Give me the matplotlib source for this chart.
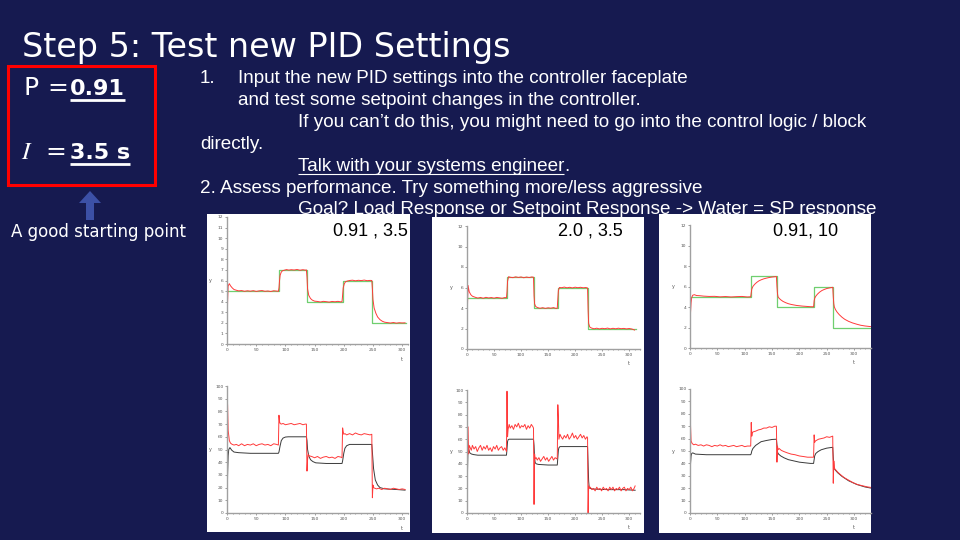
import matplotlib
matplotlib.use("Agg")
import matplotlib.pyplot as plt
from matplotlib.ticker import MultipleLocator
from matplotlib.patches import Rectangle, Polygon

# ---------------- data ----------------
# panel A : P = 0.91, I = 3.5
a_label = "0.91 , 3.5"
a_sp_t = [0, 89, 137, 198, 249, 307]
a_sp_y = [5, 7, 4, 6, 2, 2]
a_pv_t = [0, 1, 2, 4, 6, 9, 12, 16, 20, 25, 30, 35, 40, 45, 50, 55, 60, 65, 70, 75, 80, 85, 88,
          89, 90, 91, 93, 95, 98, 102, 106, 110, 115, 120, 125, 130, 134, 136,
          137, 138, 140, 143, 146, 150, 155, 160, 165, 170, 175, 180, 185, 190, 195, 197,
          198, 199, 201, 203, 206, 210, 215, 220, 225, 230, 235, 240, 245, 248,
          249, 250, 252, 255, 258, 262, 266, 270, 275, 280, 285, 290, 295, 300, 305]
a_pv_y = [0.8, 4.0, 5.5, 5.7, 5.5, 5.3, 5.15, 5.08, 5.02, 5.05, 4.98, 5.03, 4.99, 5.04, 4.97, 5.02, 5.05, 4.98, 5.01, 4.96, 5.03, 5.0, 4.98,
          5.3, 6.0, 6.5, 6.8, 6.92, 6.97, 7.03, 6.98, 7.02, 6.99, 7.04, 6.97, 7.02, 6.98, 7.0,
          6.3, 5.2, 4.6, 4.3, 4.15, 4.05, 4.02, 3.97, 4.03, 4.0, 3.96, 4.02, 3.99, 4.03, 3.98, 4.0,
          4.6, 5.3, 5.7, 5.88, 5.95, 6.0, 6.03, 5.97, 6.02, 5.99, 6.04, 5.98, 6.01, 6.0,
          5.2, 4.2, 3.4, 2.9, 2.55, 2.3, 2.15, 2.06, 2.02, 1.98, 2.03, 1.97, 2.01, 1.99, 2.0]
a_co_t = [0, 1, 2, 4, 6, 9, 12, 16, 20, 25, 30, 35, 40, 45, 50, 55, 60, 65, 70, 75, 80, 85, 88,
          89, 90, 91, 93, 96, 100, 105, 110, 115, 120, 125, 130, 134, 136,
          137, 138, 139, 141, 145, 150, 155, 160, 165, 170, 175, 180, 185, 190, 195, 197,
          198, 199, 200, 202, 205, 210, 215, 220, 225, 230, 235, 240, 245, 248,
          249, 250, 251, 253, 256, 260, 265, 270, 275, 280, 285, 290, 295, 300, 305]
a_co_y = [93, 85, 65, 57, 55, 54, 53.5, 54, 53, 54.5, 53, 54, 53.5, 54.5, 53, 54, 54.5, 53.5, 54, 53, 54.5, 54, 53.5,
          77, 72, 70.5, 70, 70.5, 69.5, 70, 70.5, 69.5, 70, 70.5, 69.5, 70, 70,
          33, 42, 46, 45, 44.5, 43.5, 44.5, 43, 44, 44.5, 43.5, 44, 43, 44.5, 44, 43.5,
          67, 64, 62, 62.5, 61.5, 62.5, 61.5, 63, 62, 61.5, 62.5, 62, 61.5, 62,
          12, 22, 20, 19.5, 19, 19.5, 18.5, 19.5, 19, 18.5, 19.5, 19, 18.5, 19, 18.5]
a_bk_t = [0, 1, 2, 3, 5, 8, 12, 20, 40, 60, 80, 88,
          89, 91, 93, 96, 100, 105, 120, 136,
          137, 138, 140, 143, 147, 152, 170, 197,
          198, 200, 202, 205, 210, 220, 248,
          249, 251, 254, 258, 262, 270, 290, 305]
a_bk_y = [0, 30, 45, 50, 51.5, 49.5, 48, 47.5, 47, 47, 47, 47,
          48, 53, 57, 59, 59.8, 60, 60, 60,
          57, 50, 45, 42, 40.5, 39.5, 39, 39,
          41, 47, 51, 53, 54, 54, 54,
          48, 35, 26, 22, 20, 19, 18.5, 18]

# panel B : P = 2.0, I = 3.5
b_label = "2.0 , 3.5"
b_sp_t = [0, 74, 124, 168, 224, 312]
b_sp_y = [5, 7, 4, 6, 2, 2]
b_pv_t = [0, 1, 2, 4, 7, 10, 15, 20, 25, 30, 35, 40, 45, 50, 55, 60, 65, 70, 73,
          74, 75, 77, 80, 85, 90, 95, 100, 105, 110, 115, 120, 123,
          124, 125, 127, 130, 135, 140, 145, 150, 155, 160, 165, 167,
          168, 169, 171, 175, 180, 185, 190, 195, 200, 205, 210, 215, 220, 223,
          224, 225, 227, 230, 235, 240, 245, 250, 255, 260, 265, 270, 275, 280, 285, 290, 295, 300, 305, 310]
b_pv_y = [1.0, 4.5, 6.2, 5.6, 5.3, 5.15, 5.05, 4.97, 5.03, 4.95, 5.04, 4.98, 5.02, 4.96, 5.03, 4.99, 4.95, 5.02, 5.0,
          5.6, 6.6, 7.05, 7.0, 6.96, 7.04, 6.98, 7.03, 6.95, 7.02, 6.97, 7.03, 7.0,
          5.2, 4.4, 4.15, 4.05, 3.97, 4.03, 3.96, 4.02, 3.98, 4.04, 3.95, 4.0,
          4.9, 5.7, 6.0, 5.98, 6.04, 5.97, 6.02, 5.96, 6.03, 5.98, 6.02, 5.97, 6.0, 5.95,
          3.8, 2.5, 2.15, 2.05, 1.97, 2.03, 1.96, 2.02, 1.98, 2.04, 1.96, 2.02, 1.97, 2.03, 1.98, 2.01, 1.96, 2.0, 1.95, 1.85]
b_co_t = [0, 1, 2, 3, 4, 6, 8, 10, 13, 16, 19, 22, 25, 28, 31, 34, 37, 40, 43, 46, 49, 52, 55, 58, 61, 64, 67, 70, 73,
          74, 75, 76, 78, 80, 83, 86, 89, 92, 95, 98, 101, 104, 107, 110, 113, 116, 119, 122, 123,
          124, 125, 126, 128, 130, 133, 136, 139, 142, 145, 148, 151, 154, 157, 160, 163, 166, 167,
          168, 169, 170, 172, 174, 177, 180, 183, 186, 189, 192, 195, 198, 201, 204, 207, 210, 213, 216, 219, 222, 223,
          224, 225, 226, 228, 231, 234, 237, 240, 243, 246, 249, 252, 255, 258, 261, 264, 267, 270, 273, 276,
          279, 282, 285, 288, 291, 294, 297, 300, 303, 306, 309, 311]
b_co_y = [100, 52, 70, 48, 55, 53, 51, 55, 52, 54, 50, 53, 55, 51, 54, 52, 55, 51, 53, 50, 54, 52, 55, 51, 53, 54, 51, 53, 50,
          99, 62, 68, 72, 69, 71, 68, 72, 70, 73, 69, 71, 70, 72, 68, 71, 69, 72, 70, 69,
          7, 48, 44, 45, 43, 45, 42, 44, 46, 43, 45, 42, 44, 46, 43, 45, 44, 45,
          88, 78, 60, 64, 62, 60, 63, 61, 64, 60, 62, 65, 61, 63, 60, 62, 64, 61, 63, 60, 62, 61,
          0, 22, 20, 21, 19, 20, 18, 21, 19, 20, 18, 21, 19, 20, 18, 21, 19, 21, 18, 20,
          19, 21, 18, 20, 21, 18, 20, 19, 21, 18, 20, 22]
b_bk_t = [0, 1, 2, 3, 5, 8, 12, 20, 40, 60,
          73, 74, 75, 76, 78, 82, 100, 123,
          124, 125, 126, 128, 132, 150, 167,
          168, 169, 170, 172, 176, 200, 223,
          224, 225, 226, 228, 232, 260, 290, 311]
b_bk_y = [0, 35, 55, 52, 49, 48, 47.5, 47, 47, 47,
          47, 52, 58, 59.5, 60, 60, 60, 60,
          55, 45, 41, 40, 39.5, 39, 39,
          45, 51, 53, 54, 54, 54, 54,
          40, 26, 21, 20, 19.5, 19, 19, 18.5]

# panel C : P = 0.91, I = 10
c_label = "0.91, 10"
c_sp_t = [0, 112, 159, 227, 262, 338]
c_sp_y = [5, 7, 4, 6, 2, 2]
c_pv_t = [0, 1, 2, 3, 5, 8, 12, 18, 25, 35, 45, 55, 65, 75, 85, 95, 105, 111,
          112, 113, 115, 118, 122, 126, 130, 135, 140, 145, 150, 155, 158,
          159, 160, 161, 163, 166, 170, 175, 180, 185, 190, 195, 200, 205, 210, 215, 220, 226,
          227, 228, 230, 233, 237, 241, 245, 250, 255, 261,
          262, 263, 264, 266, 269, 273, 278, 283, 290, 297, 305, 312, 320, 328, 335, 338]
c_pv_y = [1.2, 3.5, 4.4, 4.9, 5.15, 5.2, 5.12, 5.1, 5.06, 5.03, 5.04, 4.99, 5.02, 4.98, 5.01, 5.03, 4.98, 5.0,
          5.4, 5.75, 6.0, 6.2, 6.4, 6.55, 6.65, 6.75, 6.82, 6.88, 6.92, 6.95, 6.97,
          6.0, 5.3, 5.0, 4.85, 4.7, 4.55, 4.42, 4.32, 4.25, 4.2, 4.15, 4.12, 4.09, 4.07, 4.05, 4.03, 4.02,
          4.6, 4.85, 5.05, 5.25, 5.45, 5.6, 5.7, 5.8, 5.86, 5.92,
          5.0, 4.3, 4.0, 3.75, 3.5, 3.25, 3.0, 2.8, 2.6, 2.45, 2.32, 2.22, 2.15, 2.1, 2.06, 2.05]
c_co_t = [0, 1, 2, 4, 7, 10, 15, 20, 25, 30, 35, 40, 45, 50, 55, 60, 65, 70, 75, 80, 85, 90, 95, 100, 105, 111,
          112, 113, 114, 116, 120, 125, 130, 135, 140, 145, 150, 155, 158,
          159, 160, 161, 163, 167, 172, 178, 185, 192, 200, 208, 215, 222, 226,
          227, 228, 229, 231, 235, 240, 245, 250, 255, 261,
          262, 263, 264, 266, 270, 275, 282, 290, 298, 306, 315, 325, 333, 338]
c_co_y = [86, 70, 58, 56, 55, 55.5, 54.5, 55, 54, 55, 54.5, 53.5, 54.5, 54, 55, 54, 54.5, 53.5, 54, 54.5, 53.5, 54, 54.5, 53.5, 54, 54,
          73, 62, 65, 65.5, 66, 67, 67.5, 68.5, 68.5, 69.5, 69, 70, 70,
          41, 54, 51, 52, 50.5, 49.5, 48.5, 47.5, 47, 46, 45.5, 45, 45, 45,
          63, 57, 58, 58.5, 59.5, 60, 60.5, 61.5, 61, 62,
          24, 42, 36, 35, 33, 31, 28.5, 26.5, 24.5, 23, 22, 21, 20.5, 19.5]
c_bk_t = [0, 1, 2, 3, 5, 10, 30, 60, 90, 111,
          112, 113, 115, 120, 125, 130, 140, 150, 158,
          159, 160, 162, 166, 172, 180, 190, 200, 210, 220, 226,
          227, 228, 230, 234, 240, 250, 261,
          262, 263, 265, 270, 278, 290, 305, 320, 338]
c_bk_y = [27, 40, 46, 48, 48.5, 47.5, 47, 47, 47, 47,
          48, 50, 52, 54.5, 56, 57.5, 58.5, 59.3, 59.5,
          55, 49, 47.5, 46, 44.5, 43, 42, 41, 40.5, 40, 40,
          43, 46, 48, 49.5, 51, 52.3, 53,
          45, 37, 35, 32.5, 29.5, 26, 23, 21, 19.5]

body_lines = [
    "1.",
    "Input the new PID settings into the controller faceplate",
    "and test some setpoint changes in the controller.",
    "If you can\u2019t do this, you might need to go into the control logic / block",
    "directly.",
    "Talk with your systems engineer",
    "2. Assess performance. Try something more/less aggressive",
    "Goal? Load Response or Setpoint Response -> Water = SP response",
]

BG = "#161a50"
W, H = 960, 540


def rect(x0, y0, x1, y1):
    # pixel box (top-left origin) -> figure fraction
    return [x0 / W, 1 - y1 / H, (x1 - x0) / W, (y1 - y0) / H]


fig = plt.figure(figsize=(9.6, 5.4), dpi=100)
fig.patch.set_facecolor(BG)
bg = fig.add_axes([0, 0, 1, 1])
bg.set_xlim(0, W)
bg.set_ylim(H, 0)
bg.axis("off")

# title and text
bg.text(22, 57, "Step 5: Test new PID Settings", fontsize=24, color="white",
        family="DejaVu Sans", va="baseline")

body = dict(fontsize=13.6, color="white", family="Liberation Sans", va="baseline")
bg.text(200, 83, body_lines[0], **body)
bg.text(238, 83, body_lines[1], **body)
bg.text(238, 105, body_lines[2], **body)
bg.text(298, 127, body_lines[3], **body)
bg.text(200, 149, body_lines[4], **body)
talk = bg.text(298, 171, body_lines[5], **body)
bg.text(200, 193, body_lines[6], **body)
bg.text(298, 214, body_lines[7], **body)

# boxed settings
bg.add_patch(Rectangle((8, 66), 147, 119, fill=False, edgecolor="#ff0000", lw=2.2))
bg.text(23, 95, "P", fontsize=18, color="white", family="DejaVu Sans", va="baseline")
bg.text(47, 95, "=", fontsize=18, color="white", family="DejaVu Sans", va="baseline")
p_val = bg.text(70, 95, "0.91", fontsize=16, color="white", family="DejaVu Sans",
                weight="bold", va="baseline")
bg.text(21, 159, r"$I$", fontsize=18, color="white", math_fontfamily="stix", va="baseline")
bg.text(45, 159, "=", fontsize=18, color="white", family="DejaVu Sans", va="baseline")
i_val = bg.text(70, 159, "3.5 s", fontsize=16, color="white", family="DejaVu Sans",
                weight="bold", va="baseline")

bg.add_patch(Polygon([(90, 191), (79, 203), (86, 203), (86, 220), (94, 220), (94, 203), (101, 203)],
                     closed=True, facecolor="#3c50a6", edgecolor="none"))
bg.text(11, 237, "A good starting point", fontsize=12, color="white",
        family="DejaVu Sans", va="baseline")

# underlines from the rendered text widths
fig.canvas.draw()
rend = fig.canvas.get_renderer()
inv = bg.transData.inverted()
for txt, yy, lw in [(p_val, 100, 2.0), (i_val, 164, 2.0), (talk, 174, 0.8)]:
    bb = txt.get_window_extent(rend)
    x0 = inv.transform((bb.x0, 0))[0]
    x1 = inv.transform((bb.x1, 0))[0]
    bg.plot([x0, x1], [yy, yy], color="white", lw=lw, solid_capstyle="butt")
    if txt is talk:
        bg.text(x1, 171, ".", **body)

# ---------------- the three screenshot panels ----------------
panels = [
    dict(box=(207, 214, 410, 532), label=a_label, lab_xy=(333, 231), xmax=310, ystep=1,
         top=(227, 217, 408, 344), bot=(227, 386, 408, 513),
         sp=(a_sp_t, a_sp_y), pv=(a_pv_t, a_pv_y), co=(a_co_t, a_co_y), bk=(a_bk_t, a_bk_y)),
    dict(box=(432, 217, 644, 533), label=b_label, lab_xy=(558, 231), xmax=320, ystep=2,
         top=(467, 226, 640, 349), bot=(467, 390, 640, 513),
         sp=(b_sp_t, b_sp_y), pv=(b_pv_t, b_pv_y), co=(b_co_t, b_co_y), bk=(b_bk_t, b_bk_y)),
    dict(box=(659, 214, 871, 533), label=c_label, lab_xy=(773, 231), xmax=331, ystep=2,
         top=(690, 225, 871, 348), bot=(690, 389, 871, 513),
         sp=(c_sp_t, c_sp_y), pv=(c_pv_t, c_pv_y), co=(c_co_t, c_co_y), bk=(c_bk_t, c_bk_y)),
]


def style(ax, xmax, ymax, ystep):
    ax.set_xlim(0, xmax)
    ax.set_ylim(0, ymax)
    ax.set_facecolor("none")
    ax.spines["top"].set_visible(False)
    ax.spines["right"].set_visible(False)
    for s in ["left", "bottom"]:
        ax.spines[s].set_color("#a0a0a0")
        ax.spines[s].set_linewidth(1.0)
    ax.xaxis.set_major_locator(MultipleLocator(50))
    ax.xaxis.set_minor_locator(MultipleLocator(10))
    ax.yaxis.set_major_locator(MultipleLocator(ystep))
    ax.tick_params(which="both", labelsize=3.2, colors="#777", labelcolor="#555",
                   length=1.6, width=0.5, pad=1)
    ax.tick_params(which="minor", length=1.0)
    ax.text(-0.09, 0.5, "y", transform=ax.transAxes, fontsize=3.5, color="#555",
            ha="center", va="center")
    ax.text(300 / xmax, -0.1, "t", transform=ax.transAxes, fontsize=3.5, color="#555",
            ha="center", va="top")


for p in panels:
    pa = fig.add_axes(rect(*p["box"]), zorder=2)
    pa.set_facecolor("white")
    pa.set_xticks([])
    pa.set_yticks([])
    for s in pa.spines.values():
        s.set_visible(False)
    lab = pa.text(p["lab_xy"][0], p["lab_xy"][1], p["label"], transform=bg.transData,
                  fontsize=13, color="black", family="Liberation Sans", va="center")
    lab.set_clip_path(pa.patch)

    top = fig.add_axes(rect(*p["top"]), zorder=3)
    style(top, p["xmax"], 12, p["ystep"])
    top.plot(*p["sp"], drawstyle="steps-post", color="#6fcf6f", lw=0.9)
    top.plot(*p["pv"], color="#ff3a3a", lw=0.7)

    bot = fig.add_axes(rect(*p["bot"]), zorder=3)
    style(bot, p["xmax"], 100, 10)
    bot.plot(*p["bk"], color="#3a3a3a", lw=0.7)
    bot.plot(*p["co"], color="#ff3a3a", lw=0.7)

fig.savefig("out.png", dpi=100, facecolor=BG)
